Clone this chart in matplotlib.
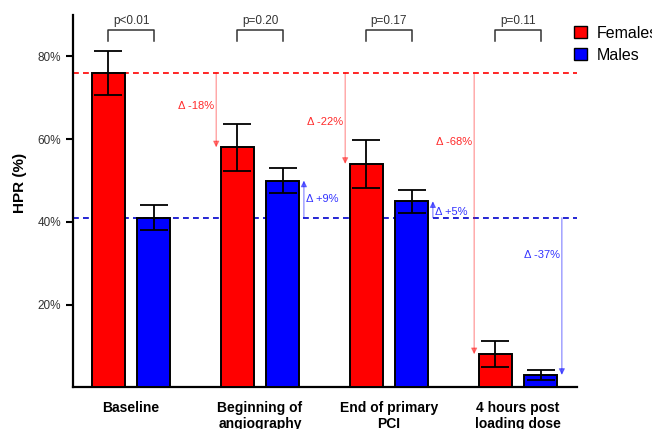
import numpy as np
import matplotlib
matplotlib.use('Agg')
import matplotlib.pyplot as plt
from matplotlib.patches import Patch

plt.rcParams['font.family'] = ['Liberation Sans', 'DejaVu Sans']

# data
categories = ['Baseline', 'Beginning of\nangiography', 'End of primary\nPCI', '4 hours post\nloading dose']
females = [76, 58, 54, 8]
females_err = [5.3, 5.6, 5.7, 3.1]
males = [41, 50, 45, 3]
males_err = [3.0, 3.0, 2.8, 1.2]
p_values = ['p<0.01', 'p=0.20', 'p=0.17', 'p=0.11']
female_deltas = ['Δ -18%', 'Δ -22%', 'Δ -68%']
male_deltas = ['Δ +9%', 'Δ +5%', 'Δ -37%']

# label heights for the delta texts (in % units)
female_delta_y = [68.1, 64.1, 59.2]
male_delta_y = [45.5, 42.5, 32.1]

red = '#ff0000'
blue = '#0000ff'

fig = plt.figure(figsize=(6.52, 4.29), dpi=100)
ax = fig.add_axes([0.112, 0.097, 0.7725, 0.868])

x = np.arange(len(categories))
w = 0.26
off = 0.175

ax.bar(x - off, females, w, color=red, edgecolor='black', linewidth=1.4, zorder=3)
ax.bar(x + off, males, w, color=blue, edgecolor='black', linewidth=1.4, zorder=3)
ax.errorbar(x - off, females, yerr=females_err, fmt='none', ecolor='black',
            elinewidth=1.3, capsize=10, capthick=1.3, zorder=4)
ax.errorbar(x + off, males, yerr=males_err, fmt='none', ecolor='black',
            elinewidth=1.3, capsize=10, capthick=1.3, zorder=4)

# baseline reference lines
ax.axhline(females[0], color=red, ls=(0, (3.5, 2.5)), lw=1.2, zorder=2)
ax.axhline(males[0], color='#0000cc', ls=(0, (3.5, 2.5)), lw=1.2, zorder=2)

# delta arrows from baseline to each later timepoint
for i in range(1, len(categories)):
    xf = x[i] - off - w / 2 - 0.035
    ax.annotate('', xy=(xf, females[i]), xytext=(xf, females[0]),
                arrowprops=dict(arrowstyle='-|>', color=red, alpha=0.45,
                                lw=0.8, mutation_scale=9, shrinkA=0, shrinkB=0))
    ax.text(xf - 0.015, female_delta_y[i - 1], female_deltas[i - 1], color='#ff2a2a',
            fontsize=8, ha='right', va='center')

    xm = x[i] + off + w / 2 + 0.035
    ax.annotate('', xy=(xm, males[i]), xytext=(xm, males[0]),
                arrowprops=dict(arrowstyle='-|>', color=blue, alpha=0.5,
                                lw=0.8, mutation_scale=9, shrinkA=0, shrinkB=0))
    if males[i] > males[0]:
        ax.text(xm + 0.02, male_delta_y[i - 1], male_deltas[i - 1], color='#3333ff',
                fontsize=8, ha='left', va='center')
    else:
        ax.text(xm - 0.015, male_delta_y[i - 1], male_deltas[i - 1], color='#3333ff',
                fontsize=8, ha='right', va='center')

# p-value brackets
for i, p in enumerate(p_values):
    ax.plot([x[i] - off, x[i] - off, x[i] + off, x[i] + off], [83.7, 86.4, 86.4, 83.7],
            color='#333333', lw=1.1, clip_on=False)
    ax.text(x[i], 87.0, p, ha='center', va='bottom', fontsize=8.5, color='#333333')

ax.set_xlim(-0.45, 3.455)
ax.set_ylim(0, 90)
ax.set_yticks([20, 40, 60, 80])
ax.set_yticklabels(['20%', '40%', '60%', '80%'], fontsize=8.5, color='#333333')
ax.set_xticks(x)
ax.set_xticklabels(categories, fontsize=10, fontweight='bold', linespacing=1.15)
ax.tick_params(axis='x', length=0, pad=10)
ax.tick_params(axis='y', length=5, width=1.5)
ax.set_ylabel('HPR (%)', fontsize=11, fontweight='bold')
ax.yaxis.set_label_coords(-0.092, 0.548)

for s in ['top', 'right']:
    ax.spines[s].set_visible(False)
ax.spines['left'].set_linewidth(1.6)
ax.spines['bottom'].set_linewidth(1.6)

handles = [Patch(facecolor=red, edgecolor='black', label='Females'),
           Patch(facecolor=blue, edgecolor='black', label='Males')]
ax.legend(handles=handles, loc='upper left', bbox_to_anchor=(0.966, 1.01),
          frameon=False, fontsize=11.5, handlelength=0.8, handleheight=0.8,
          handletextpad=0.6, labelspacing=0.45)

fig.savefig('out.png', dpi=100)
